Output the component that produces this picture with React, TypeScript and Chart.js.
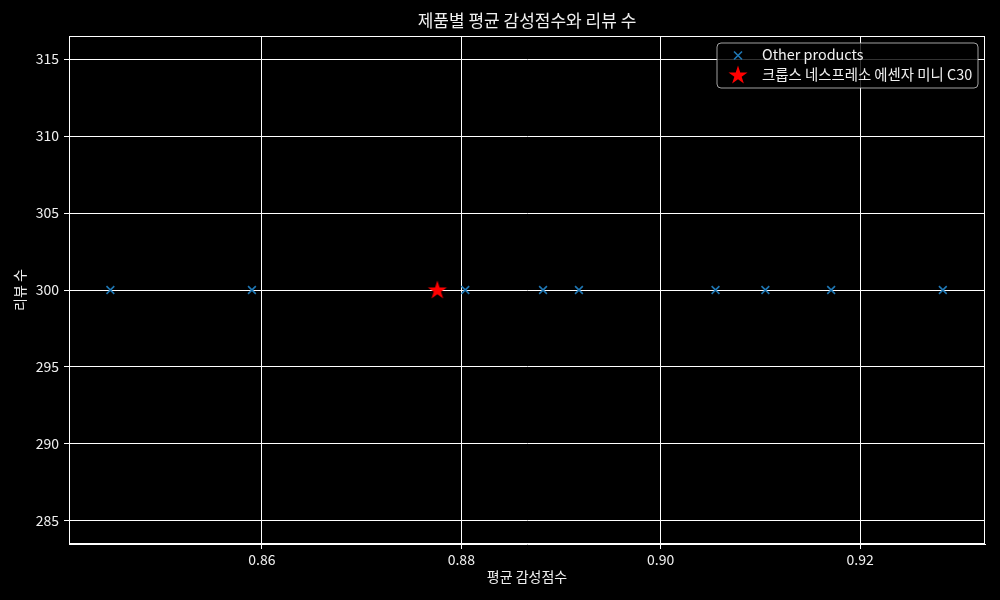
import React, { useEffect, useRef } from "react";
import { Chart, registerables } from "chart.js";

Chart.register(...registerables);

const otherScores = [0.8448, 0.859, 0.8804, 0.8882, 0.8918, 0.9055, 0.9105, 0.9171, 0.9283];
const otherReviews = [300, 300, 300, 300, 300, 300, 300, 300, 300];
const targetScores = [0.8776];
const targetReviews = [300];
const xTicks = [0.86, 0.88, 0.9, 0.92];
const yTicks = [285, 290, 295, 300, 305, 310, 315];
const otherLabel = "Other products";
const targetLabel = "크룹스 네스프레소 에센자 미니 C30";
const chartTitle = "제품별 평균 감성점수와 리뷰 수";
const xTitle = "평균 감성점수";
const yTitle = "리뷰 수";

const FONT = "'Noto Sans CJK KR', 'Noto Sans', sans-serif";
const BLUE = "#1f77b4";
const TEXT = "#f0f0f0";

function drawStar(ctx: CanvasRenderingContext2D, cx: number, cy: number, R: number) {
  const r = R * 0.381966;
  ctx.beginPath();
  for (let i = 0; i < 10; i++) {
    const a = -Math.PI / 2 + (i * Math.PI) / 5;
    const rad = i % 2 === 0 ? R : r;
    const x = cx + Math.cos(a) * rad;
    const y = cy + Math.sin(a) * rad;
    if (i === 0) ctx.moveTo(x, y);
    else ctx.lineTo(x, y);
  }
  ctx.closePath();
  ctx.fillStyle = "#ff0000";
  ctx.fill();
}

function makeStarImage(): HTMLCanvasElement {
  const c = document.createElement("canvas");
  c.width = 22;
  c.height = 22;
  const ctx = c.getContext("2d")!;
  drawStar(ctx, 11, 11.5, 10);
  return c;
}

const framePlugin = {
  id: "frame",
  afterDraw(chart: any) {
    const { ctx, chartArea } = chart;
    ctx.save();
    ctx.strokeStyle = "#ffffff";
    ctx.lineWidth = 1;
    ctx.strokeRect(chartArea.left + 0.5, chartArea.top + 0.5, chartArea.right - chartArea.left - 1, chartArea.bottom - chartArea.top - 1);

    // title centred over the axes
    ctx.fillStyle = TEXT;
    ctx.font = `17px ${FONT}`;
    ctx.textAlign = "center";
    ctx.textBaseline = "middle";
    ctx.fillText(chartTitle, (chartArea.left + chartArea.right) / 2, 21);

    // legend
    const x0 = 717, y0 = 43, x1 = 978, y1 = 88;
    ctx.beginPath();
    const rr = 4;
    ctx.moveTo(x0 + rr, y0);
    ctx.lineTo(x1 - rr, y0);
    ctx.quadraticCurveTo(x1, y0, x1, y0 + rr);
    ctx.lineTo(x1, y1 - rr);
    ctx.quadraticCurveTo(x1, y1, x1 - rr, y1);
    ctx.lineTo(x0 + rr, y1);
    ctx.quadraticCurveTo(x0, y1, x0, y1 - rr);
    ctx.lineTo(x0, y0 + rr);
    ctx.quadraticCurveTo(x0, y0, x0 + rr, y0);
    ctx.closePath();
    ctx.fillStyle = "rgba(0,0,0,0.8)";
    ctx.fill();
    ctx.strokeStyle = "rgba(200,200,200,0.8)";
    ctx.lineWidth = 1;
    ctx.stroke();

    // x marker
    const mx = 738, my = 55.5, d = 4;
    ctx.strokeStyle = BLUE;
    ctx.lineWidth = 1.6;
    ctx.beginPath();
    ctx.moveTo(mx - d, my - d);
    ctx.lineTo(mx + d, my + d);
    ctx.moveTo(mx - d, my + d);
    ctx.lineTo(mx + d, my - d);
    ctx.stroke();

    drawStar(ctx, 738, 75.5, 10);

    ctx.fillStyle = TEXT;
    ctx.font = `14.4px ${FONT}`;
    ctx.textBaseline = "middle";
    ctx.textAlign = "left";
    ctx.fillText(otherLabel, 762, 55);
    ctx.fillText(targetLabel, 762, 75);
    ctx.restore();
  },
};

export default function App() {
  const ref = useRef<HTMLCanvasElement>(null);
  useEffect(() => {
    if (!ref.current) return;
    const star = makeStarImage();
    const chart = new Chart(ref.current, {
      type: "scatter",
      data: {
        datasets: [
          {
            label: otherLabel,
            data: otherScores.map((x, i) => ({ x, y: otherReviews[i] })),
            pointStyle: "crossRot",
            pointRadius: 5.5,
            borderColor: BLUE,
            backgroundColor: BLUE,
            borderWidth: 1.6,
          },
          {
            label: targetLabel,
            data: targetScores.map((x, i) => ({ x, y: targetReviews[i] })),
            pointStyle: star as any,
            pointRadius: 10,
            borderColor: "#ff0000",
            backgroundColor: "#ff0000",
          },
        ],
      },
      options: {
        animation: false,
        responsive: false,
        devicePixelRatio: 1,
        layout: { padding: { top: 36, left: 0, right: 15, bottom: 0 } },
        plugins: {
          legend: { display: false },
          tooltip: { enabled: false },
          title: { display: false },
        },
        scales: {
          x: {
            type: "linear",
            min: 0.84065,
            max: 0.93253,
            afterBuildTicks: (s: any) => {
              s.ticks = xTicks.map((v) => ({ value: v }));
            },
            afterFit: (s: any) => {
              s.height = 56;
            },
            ticks: {
              color: TEXT,
              font: { family: FONT, size: 14 },
              padding: 2,
              callback: (v: any) => Number(v).toFixed(2),
            },
            grid: { color: "#ffffff", lineWidth: 1, tickLength: 5, drawTicks: true },
            border: { display: true, color: "#ffffff", width: 1 },
            title: {
              display: true,
              text: xTitle,
              color: TEXT,
              font: { family: FONT, size: 14 },
              padding: { top: 0, bottom: 14.6 },
            },
          },
          y: {
            type: "linear",
            min: 283.5,
            max: 316.5,
            afterBuildTicks: (s: any) => {
              s.ticks = yTicks.map((v) => ({ value: v }));
            },
            afterFit: (s: any) => {
              s.width = 69;
            },
            ticks: {
              color: TEXT,
              font: { family: FONT, size: 14 },
              padding: 5,
              callback: (v: any) => String(v),
            },
            grid: { color: "#ffffff", lineWidth: 1, tickLength: 5, drawTicks: true },
            border: { display: true, color: "#ffffff", width: 1 },
            title: {
              display: true,
              text: yTitle,
              color: TEXT,
              font: { family: FONT, size: 14 },
              padding: { top: 11, bottom: 0 },
            },
          },
        },
      },
      plugins: [framePlugin],
    });
    return () => chart.destroy();
  }, []);
  return (
    <div style={{ position: "fixed", left: 0, top: 0, width: 1000, height: 600, background: "#000000" }}>
      <canvas ref={ref} width={1000} height={600} style={{ width: 1000, height: 600, display: "block" }} />
    </div>
  );
}
